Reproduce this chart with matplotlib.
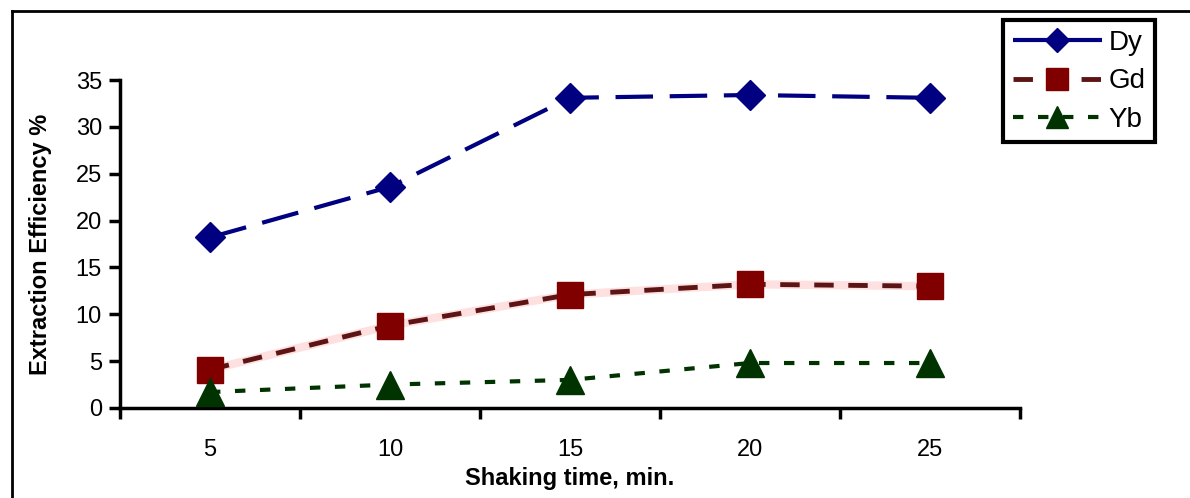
import numpy as np
import matplotlib.pyplot as plt
from matplotlib.lines import Line2D

plt.rcParams['font.family'] = ['Liberation Sans', 'DejaVu Sans']

times = ['5', '10', '15', '20', '25']
dy = [18.2, 23.6, 33.1, 33.4, 33.1]
gd = [4.1, 8.8, 12.1, 13.2, 13.0]
yb = [1.7, 2.5, 3.0, 4.8, 4.8]

fig = plt.figure(figsize=(11.9, 4.98), dpi=100)
ax = fig.add_axes([120/1190, 1-408/498, 900/1190, 328/498])

x = np.arange(len(times))

ax.plot(x, dy, color='#000080', lw=3, dashes=(9, 4), marker='D', ms=15,
        label='Dy', zorder=3)
# Gd: light pink band under a dark red dashed line
ax.plot(x, gd, color='#ffe0e0', lw=6, zorder=2)
ax.plot(x, gd, color='#5c1414', lw=3.5, dashes=(4, 3), marker='s', ms=19,
        mfc='#800000', mec='#800000', label='Gd', zorder=3)
ax.plot(x, yb, color='#003300', lw=3, dashes=(2.5, 3.5), marker='^', ms=20,
        label='Yb', zorder=3)

ax.set_xlim(-0.5, len(times) - 0.5)
ax.set_ylim(0, 35)
ax.set_yticks(range(0, 36, 5))
ax.set_xticks(np.arange(-0.5, len(times), 1.0))
ax.set_xticklabels([])
ax.set_xticks(x, minor=True)
ax.set_xticklabels(times, minor=True)
ax.tick_params(axis='x', which='minor', length=0, pad=22, labelsize=17)
ax.tick_params(axis='x', which='major', length=8, width=2.5, direction='out')
ax.tick_params(axis='y', length=8, width=2.5, direction='out', labelsize=17, pad=5)

for s in ['top', 'right']:
    ax.spines[s].set_visible(False)
for s in ['left', 'bottom']:
    ax.spines[s].set_linewidth(2.5)

ax.set_xlabel('Shaking time, min.', fontsize=17, fontweight='bold', labelpad=5)
ax.set_ylabel('Extraction Efficiency %', fontsize=17, fontweight='bold', labelpad=17)

leg = fig.legend(loc='upper left', bbox_to_anchor=(1003/1190, 1-20/498),
                 fontsize=20, frameon=True, fancybox=False, framealpha=1,
                 handlelength=3.2, borderpad=0.35, labelspacing=0.45,
                 handletextpad=0.25, borderaxespad=0, markerscale=0.8)
leg.get_frame().set_edgecolor('black')
leg.get_frame().set_linewidth(3)

# outer border of the chart area
fig.add_artist(Line2D([12/1190, 12/1190], [0, 1-11/498], color='black', lw=2))
fig.add_artist(Line2D([12/1190, 1], [1-11/498, 1-11/498], color='black', lw=2))

plt.savefig('out.png', dpi=100)
